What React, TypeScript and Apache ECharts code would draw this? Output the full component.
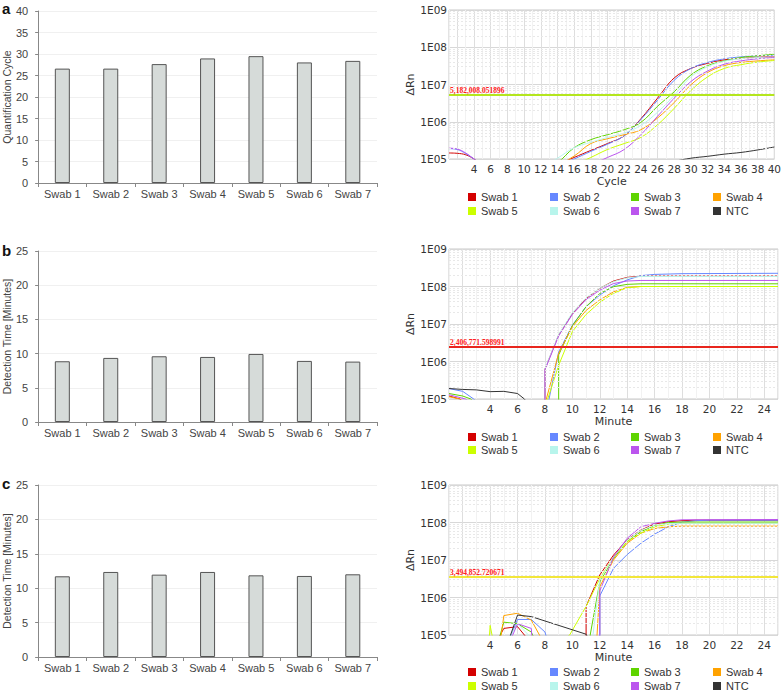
import React, { useEffect, useRef } from 'react';
import * as echarts from 'echarts';

// ---------- data ----------
const swabs = ['Swab 1', 'Swab 2', 'Swab 3', 'Swab 4', 'Swab 5', 'Swab 6', 'Swab 7'];
const cqA = [26.6, 26.6, 27.65, 28.97, 29.5, 28.04, 28.4];
const detB = [8.88, 9.37, 9.61, 9.51, 9.95, 8.93, 8.83];
const detC = [11.73, 12.36, 11.97, 12.36, 11.87, 11.78, 12.02];

const curveNames = ['Swab 1', 'Swab 2', 'Swab 3', 'Swab 4', 'Swab 5', 'Swab 6', 'Swab 7', 'NTC'];
const curveColors = ['#d40000', '#6688ff', '#5fd400', '#ffa200', '#ccff00', '#b8f5ec', '#bb55ee', '#333333'];

const thresholds = [5182008.051896, 2406771.598991, 3494852.720671];
const thresholdLabels = ['5,182,008.051896', '2,406,771.598991', '3,494,852.720671'];
const thresholdColors = ['#b4e61e', '#e8261e', '#f2e63a'];

const logDecades = [1e5, 1e6, 1e7, 1e8];
const minorSteps = [2, 3, 4, 5, 6, 7, 8, 9];

// panel a (cycle)
const aSwab1 = [[1, 1.45e5], [2, 1.42e5], [3, 1.3e5], [4, 1e5], [6, 5e4], [8, 4e4], [10, 4e4], [12, 5e4], [14, 7e4], [16, 1.1e5], [18, 1.7e5], [20, 2.6e5], [22, 4.2e5], [24, 1.2e6], [26, 4.3e6], [28, 1.5e7], [30, 2.7e7], [32, 3.7e7], [34, 4.6e7], [36, 5e7], [38, 5.4e7], [40, 5.6e7]];
const aSwab2 = [[1, 1.9e5], [2, 1.8e5], [3, 1.4e5], [4, 1e5], [6, 5e4], [8, 4e4], [10, 4e4], [12, 5e4], [14, 6.5e4], [16, 1e5], [18, 1.6e5], [20, 2.5e5], [22, 4.2e5], [24, 1.15e6], [26, 3.8e6], [28, 1.3e7], [30, 2.7e7], [32, 3.9e7], [34, 4.9e7], [36, 5.5e7], [38, 5.9e7], [40, 6.1e7]];
const aSwab3 = [[8, 4e4], [10, 4e4], [12, 5e4], [14, 8e4], [16, 2e5], [18, 3.3e5], [20, 4.5e5], [22, 6.1e5], [24, 9.6e5], [26, 2.6e6], [28, 6.4e6], [30, 1.8e7], [32, 3.2e7], [34, 4.3e7], [36, 5.3e7], [38, 5.9e7], [40, 6.5e7]];
const aSwab4 = [[8, 4e4], [10, 4e4], [12, 5e4], [14, 7e4], [16, 1.2e5], [18, 2.6e5], [20, 3.5e5], [22, 4.5e5], [24, 6.1e5], [26, 1.26e6], [28, 3.3e6], [30, 9.8e6], [32, 2.1e7], [34, 3.2e7], [36, 3.9e7], [38, 4.3e7], [40, 4.6e7]];
const aSwab5 = [[10, 4e4], [12, 4e4], [14, 5e4], [16, 7e4], [18, 1.1e5], [20, 1.8e5], [22, 2.6e5], [24, 3.8e5], [26, 8.3e5], [28, 2.3e6], [30, 6.9e6], [32, 1.6e7], [34, 2.7e7], [36, 3.4e7], [38, 4e7], [40, 4.4e7]];
const aSwab6 = [[8, 4e4], [10, 4e4], [12, 6e4], [14, 1.05e5], [16, 2e5], [18, 2.8e5], [20, 3.8e5], [22, 5e5], [24, 8e5], [26, 1.8e6], [28, 5.1e6], [30, 1.6e7], [32, 3e7], [34, 4.2e7], [36, 4.9e7], [38, 5.3e7], [40, 5.5e7]];
const aSwab7 = [[1, 1.95e5], [2, 1.85e5], [3, 1.45e5], [4, 1e5], [6, 5e4], [8, 4e4], [10, 4e4], [12, 4e4], [14, 4e4], [16, 5e4], [18, 7e4], [20, 1.1e5], [22, 1.8e5], [24, 4.5e5], [26, 1.4e6], [28, 4.3e6], [30, 1.2e7], [32, 2.3e7], [34, 3.5e7], [36, 4.3e7], [38, 4.9e7], [40, 5.3e7]];
const aNTC = [[22, 4e4], [24, 5e4], [26, 6e4], [28, 8.5e4], [30, 1.05e5], [32, 1.18e5], [34, 1.35e5], [36, 1.5e5], [38, 1.75e5], [40, 2.1e5]];

// panel b (minute)
const bSwab1 = [[1, 1.2e5], [1.8, 1e5], [2.5, 6e4], [8, 1e4], [8, 6.3e5], [9, 5.1e6], [10, 1.9e7], [11, 4.8e7], [12, 8.9e7], [13, 1.4e8], [14, 1.75e8], [15, 1.9e8], [16, 1.9e8], [25, 1.9e8]];
const bSwab2 = [[1, 1.9e5], [2, 1.6e5], [2.8, 1e5], [3.5, 6e4], [8, 1e4], [8.3, 1e5], [9, 1.8e6], [10, 9.3e6], [11, 2.9e7], [12, 5.9e7], [13, 1.05e8], [14, 1.5e8], [15, 1.95e8], [16, 2.1e8], [18, 2.2e8], [25, 2.25e8]];
const bSwab3 = [[1, 1.4e5], [2, 1.2e5], [2.6, 1e5], [3.2, 6e4], [9, 1e4], [9, 1.5e6], [10, 9e6], [11, 2.9e7], [12, 6.5e7], [13, 9.9e7], [14, 1.14e8], [15, 1.18e8], [25, 1.18e8]];
const bSwab4 = [[1, 1.15e5], [1.8, 1e5], [2.5, 6e4], [8, 1e4], [8.1, 1e5], [9, 1.65e6], [10, 8.5e6], [11, 2.3e7], [12, 4.4e7], [13, 7.2e7], [14, 9.5e7], [15, 1e8], [25, 1e8]];
const bSwab5 = [[8, 1e4], [8.2, 1e5], [9, 7.9e5], [10, 6.3e6], [11, 1.8e7], [12, 3.8e7], [13, 6.6e7], [14, 9.3e7], [15, 1e8], [25, 1e8]];
const bSwab6 = [[8, 1e4], [8, 6.5e5], [9, 5.3e6], [10, 2e7], [11, 5e7], [12, 9e7], [13, 1.35e8], [14, 1.7e8], [15, 1.85e8], [25, 1.85e8]];
const bSwab7 = [[1, 1.3e5], [2.2, 1e5], [3, 6e4], [8, 1e4], [8, 6e5], [9, 4.8e6], [10, 1.8e7], [11, 4.5e7], [12, 8e7], [13, 1.2e8], [14, 1.4e8], [15, 1.45e8], [25, 1.45e8]];
const bNTC = [[1, 1.9e5], [2, 1.8e5], [3, 1.75e5], [4, 1.57e5], [5, 1.6e5], [6, 1.4e5], [6.5, 1e5], [7, 6e4]];

// panel c (minute)
const cSwab1 = [[4.3, 5e4], [5, 1.5e5], [6, 1.67e5], [7, 6e4], [11, 1e4], [11, 5.8e5], [12, 4e6], [13, 1.35e7], [14, 3.5e7], [15, 6.3e7], [16, 9.1e7], [17, 1.05e8], [18, 1.12e8], [19, 1.15e8], [25, 1.15e8]];
const cSwab2 = [[5.2, 5e4], [6, 2.6e5], [7, 2.6e5], [8, 1.2e5], [8.3, 5e4], [12, 1e4], [12, 1.1e6], [13, 6e6], [14, 1.4e7], [15, 2.8e7], [16, 4.9e7], [17, 7.7e7], [18, 1.02e8], [19, 1.12e8], [20, 1.15e8], [25, 1.15e8]];
const cSwab3 = [[4.5, 5e4], [5, 2.2e5], [6, 2e5], [7, 1.2e5], [7.5, 5e4], [11.2, 1e4], [11.3, 1e5], [12, 2.6e6], [13, 1.1e7], [14, 3.1e7], [15, 5.7e7], [16, 8.3e7], [17, 1e8], [18, 1.03e8], [25, 1.03e8]];
const cSwab4 = [[4.7, 5e4], [5, 3.3e5], [6, 3.8e5], [7, 2.5e5], [7.6, 1e5], [8, 5e4], [11.7, 1e4], [11.8, 1e5], [12, 1.95e6], [13, 1e7], [14, 2.8e7], [15, 5.2e7], [16, 6.9e7], [17, 7.7e7], [18, 8e7], [25, 8e7]];
const cSwab5 = [[3.9, 5e4], [4, 1.8e5], [4.3, 5e4], [9.5, 8e4], [9.8, 1e5], [11, 5.8e5], [12, 3.2e6], [13, 1.2e7], [14, 3.1e7], [15, 5.2e7], [16, 7.7e7], [17, 9e7], [18, 9.5e7], [25, 9.5e7]];
const cSwab6 = [[5, 5e4], [6, 2e5], [6.8, 1e5], [7, 5e4], [11.5, 1e4], [11.5, 1e5], [12, 2.9e6], [13, 1.2e7], [14, 3.4e7], [15, 6.2e7], [16, 8.5e7], [17, 9.3e7], [18, 9.5e7], [25, 9.5e7]];
const cSwab7 = [[5.3, 5e4], [6, 2e5], [7, 1.5e5], [7.1, 5e4], [12, 1e4], [12, 1.5e6], [13, 1.2e7], [14, 3.8e7], [15, 7.7e7], [16, 9.5e7], [17, 1.1e8], [18, 1.18e8], [25, 1.2e8]];
const cNTC = [[5.2, 5e4], [6, 3.4e5], [7, 3.1e5], [11, 1.05e5], [11.5, 5e4]];

const curvesA = [aSwab1, aSwab2, aSwab3, aSwab4, aSwab5, aSwab6, aSwab7, aNTC];
const curvesB = [bSwab1, bSwab2, bSwab3, bSwab4, bSwab5, bSwab6, bSwab7, bNTC];
const curvesC = [cSwab1, cSwab2, cSwab3, cSwab4, cSwab5, cSwab6, cSwab7, cNTC];

// ---------- layout ----------
const FONT = 'Liberation Sans, Arial, sans-serif';
const VFONT = 'DejaVu Sans, Verdana, sans-serif';

const barGrids = [
  { left: 38, top: 11, width: 339, height: 172 },
  { left: 38, top: 251, width: 339, height: 171 },
  { left: 38, top: 485, width: 339, height: 172 },
];
const ampGrids = [
  { left: 449, top: 10, width: 329, height: 149 },
  { left: 449, top: 249, width: 329, height: 150 },
  { left: 449, top: 485, width: 329, height: 150 },
];
const legendRowTops = [[191, 205], [431, 444], [666, 680]];
const legendCols = [468, 550, 631, 713];

function buildOption() {
  const grid: any[] = [];
  const xAxis: any[] = [];
  const yAxis: any[] = [];
  const series: any[] = [];
  const legend: any[] = [];

  const barPanels = [
    { values: cqA, max: 40, name: 'Quantification Cycle' },
    { values: detB, max: 25, name: 'Detection Time [Minutes]' },
    { values: detC, max: 25, name: 'Detection Time [Minutes]' },
  ];
  const ampPanels = [
    { curves: curvesA, xMax: 40, xName: 'Cycle', smooth: 0.4 },
    { curves: curvesB, xMax: 25, xName: 'Minute', smooth: false },
    { curves: curvesC, xMax: 25, xName: 'Minute', smooth: false },
  ];

  const minorValues: number[] = [];
  logDecades.forEach((d) => minorSteps.forEach((m) => minorValues.push(m * d)));

  for (let p = 0; p < 3; p++) {
    // ---- bar panel ----
    const bi = grid.length;
    grid.push({ ...barGrids[p] });
    xAxis.push({
      type: 'category', gridIndex: bi, data: swabs,
      axisLine: { lineStyle: { color: '#888' } },
      axisTick: { show: true, length: 4, lineStyle: { color: '#888' } },
      axisLabel: { color: '#444', fontSize: 11, fontFamily: FONT, margin: 5 },
    });
    yAxis.push({
      type: 'value', gridIndex: bi, min: 0, max: barPanels[p].max, interval: 5,
      name: barPanels[p].name, nameLocation: 'middle', nameGap: 24,
      nameTextStyle: { color: '#444', fontSize: 10.5, fontFamily: FONT },
      axisLine: { show: true, lineStyle: { color: '#888' } },
      axisTick: { show: true, length: 3, lineStyle: { color: '#888' } },
      axisLabel: { color: '#444', fontSize: 11, fontFamily: FONT, margin: 10 },
      splitLine: { lineStyle: { color: '#f0f0f0' } },
    });
    series.push({
      type: 'bar', name: 'bar' + p, xAxisIndex: bi, yAxisIndex: bi,
      data: barPanels[p].values, barWidth: 15,
      itemStyle: { color: '#d6dbd9', borderColor: '#555', borderWidth: 1 },
    });

    // ---- amplification panel ----
    const ai = grid.length;
    grid.push({ ...ampGrids[p], show: true, borderColor: '#c8c8c8', borderWidth: 1, backgroundColor: 'transparent' });
    xAxis.push({
      type: 'value', gridIndex: ai, min: 1, max: ampPanels[p].xMax, interval: 1,
      name: ampPanels[p].xName, nameLocation: 'middle', nameGap: 17,
      nameTextStyle: { color: '#333', fontSize: 11, fontFamily: VFONT },
      axisLine: { show: false }, axisTick: { show: false },
      axisLabel: {
        color: '#333', fontSize: 10.5, fontFamily: VFONT, margin: 4,
        formatter: (v: number) => (v >= 4 && v % 2 === 0 ? String(v) : ''),
      },
      splitLine: { show: true, lineStyle: { color: ['#f2f2f2', '#dedede'], width: 1 } },
    });
    yAxis.push({
      type: 'log', logBase: 10, gridIndex: ai, min: 1e5, max: 1e9,
      name: 'ΔRn', nameLocation: 'middle', nameGap: 32,
      nameTextStyle: { color: '#333', fontSize: 11, fontFamily: VFONT },
      axisLine: { show: false }, axisTick: { show: false },
      axisLabel: {
        color: '#333', fontSize: 10.5, fontFamily: VFONT, margin: 2,
        formatter: (v: number) => '1E' + String(Math.round(Math.log10(v))).padStart(2, '0'),
      },
      splitLine: { lineStyle: { color: '#d8d8d8' } },
    });
    series.push({
      type: 'line', name: '_grid' + p, xAxisIndex: ai, yAxisIndex: ai,
      data: [[1, 1e5]], symbol: 'none', lineStyle: { opacity: 0 }, silent: true,
      markLine: {
        silent: true, symbol: 'none', animation: false,
        label: { show: false },
        lineStyle: { color: '#e8e8e8', type: [2, 2], width: 1 },
        data: [
          ...minorValues.map((v) => ({ yAxis: v })),
          {
            yAxis: thresholds[p],
            lineStyle: { color: thresholdColors[p], type: 'solid', width: 2 },
            label: {
              show: true, formatter: thresholdLabels[p], position: 'insideStartTop', distance: 1,
              color: '#ff2020', fontFamily: 'Liberation Serif, Times New Roman, serif',
              fontSize: 7.5, fontWeight: 'bold',
            },
          },
        ],
      },
    });
    ampPanels[p].curves.forEach((data, k) => {
      series.push({
        type: 'line', name: curveNames[k], xAxisIndex: ai, yAxisIndex: ai,
        data, symbol: 'none', showSymbol: false, clip: true,
        smooth: ampPanels[p].smooth,
        lineStyle: { color: curveColors[k], width: 1 },
        itemStyle: { color: curveColors[k] },
      });
    });

    for (let r = 0; r < 2; r++) {
      for (let c = 0; c < 4; c++) {
        legend.push({
          orient: 'horizontal', left: legendCols[c], top: legendRowTops[p][r], padding: 0,
          itemWidth: 8, itemHeight: 8, icon: 'rect', selectedMode: false,
          data: [curveNames[r * 4 + c]],
          textStyle: { color: '#333', fontSize: 11, fontFamily: FONT, lineHeight: 12 },
        });
      }
    }
  }

  return {
    animation: false,
    backgroundColor: '#ffffff',
    grid, xAxis, yAxis, series, legend,
    graphic: [
      { type: 'text', left: 2, top: 1, style: { text: 'a', font: 'bold 15px Liberation Sans, Arial, sans-serif', fill: '#111' } },
      { type: 'text', left: 2, top: 243, style: { text: 'b', font: 'bold 15px Liberation Sans, Arial, sans-serif', fill: '#111' } },
      { type: 'text', left: 2, top: 476, style: { text: 'c', font: 'bold 15px Liberation Sans, Arial, sans-serif', fill: '#111' } },
    ],
  };
}

export default function App() {
  const ref = useRef<HTMLDivElement>(null);
  useEffect(() => {
    if (!ref.current) return;
    const chart = echarts.init(ref.current, undefined, { renderer: 'svg' });
    chart.setOption(buildOption() as any);
    return () => chart.dispose();
  }, []);
  return (
    <div
      ref={ref}
      style={{ position: 'absolute', left: 0, top: 0, width: 784, height: 691, background: '#fff' }}
    />
  );
}
